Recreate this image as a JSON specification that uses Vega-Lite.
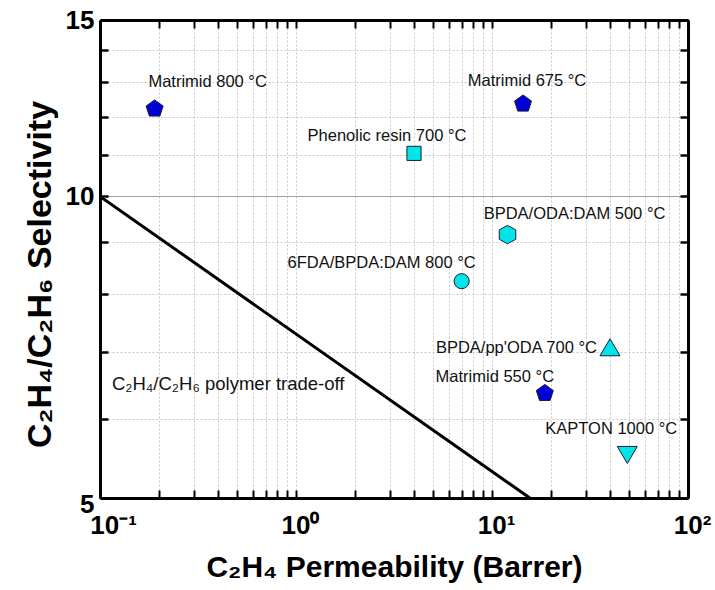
{
  "$schema": "https://vega.github.io/schema/vega-lite/v6.json",
  "width": 588,
  "height": 478,
  "autosize": {"type": "none"},
  "padding": {"left": 100, "top": 20, "right": 27, "bottom": 92},
  "background": "white",
  "config": {"view": {"stroke": null}, "font": "Liberation Sans", "text": {"font": "Liberation Sans", "color": "#111111"}},
  "datasets": {
    "membranes": [
      {"precursor": "Matrimid", "temperature": 800, "permeability": 0.19, "selectivity": 12.23, "label": "Matrimid 800 °C"},
      {"precursor": "Matrimid", "temperature": 675, "permeability": 14.4, "selectivity": 12.37, "label": "Matrimid 675 °C"},
      {"precursor": "Phenolic resin", "temperature": 700, "permeability": 4.0, "selectivity": 11.04, "label": "Phenolic resin 700 °C"},
      {"precursor": "BPDA/ODA:DAM", "temperature": 500, "permeability": 12.0, "selectivity": 9.16, "label": "BPDA/ODA:DAM 500 °C"},
      {"precursor": "6FDA/BPDA:DAM", "temperature": 800, "permeability": 7.0, "selectivity": 8.23, "label": "6FDA/BPDA:DAM 800 °C"},
      {"precursor": "BPDA/pp'ODA", "temperature": 700, "permeability": 40.0, "selectivity": 7.07, "label": "BPDA/pp'ODA 700 °C"},
      {"precursor": "Matrimid", "temperature": 550, "permeability": 18.6, "selectivity": 6.36, "label": "Matrimid 550 °C"},
      {"precursor": "KAPTON", "temperature": 1000, "permeability": 49.0, "selectivity": 5.52, "label": "KAPTON 1000 °C"}
    ],
    "tradeoff": [
      {"permeability": 0.1, "selectivity": 10},
      {"permeability": 15.6, "selectivity": 5}
    ],
    "notes": [
      {"text": "C₂H₄/C₂H₆ polymer trade-off", "permeability": 0.115, "selectivity": 6.41}
    ]
  },
  "resolve": {"axis": {"x": "independent", "y": "independent"}},
  "layer": [
    {
      "data": {"name": "tradeoff"},
      "mark": {"type": "line", "color": "black", "strokeWidth": 3, "clip": true},
      "encoding": {
        "x": {
          "field": "permeability", "type": "quantitative",
          "scale": {"type": "log", "domain": [0.1, 100], "nice": false},
          "axis": {
            "orient": "bottom",
            "values": [0.1,0.2,0.3,0.4,0.5,0.6,0.7,0.8,0.9,1,2,3,4,5,6,7,8,9,10,20,30,40,50,60,70,80,90,100],
            "labelExpr": "datum.value == 0.1 ? '10⁻¹' : datum.value == 1 ? '10⁰' : datum.value == 10 ? '10¹' : datum.value == 100 ? '10²' : ''",
            "labelFont": "Liberation Sans", "labelFontWeight": "bold", "labelFontSize": 26, "labelColor": "black",
            "labelOverlap": false, "labelFlush": false, "labelPadding": 22,
            "labelOffset": {"condition": {"test": "datum.value == 0.1", "value": 13}, "value": 4},
            "tickSize": -8, "tickWidth": 2, "tickColor": "black",
            "domainColor": "black", "domainWidth": 3,
            "grid": true, "gridColor": "#c8c8c8", "gridDash": [2, 2], "gridWidth": 1,
            "title": "C₂H₄ Permeability (Barrer)",
            "titleFont": "Liberation Sans", "titleFontSize": 30, "titleFontWeight": "bold", "titleColor": "black", "titlePadding": 14
          }
        },
        "y": {
          "field": "selectivity", "type": "quantitative",
          "scale": {"type": "log", "domain": [5, 15], "nice": false},
          "axis": {
            "orient": "left",
            "values": [5,6,7,8,9,10,11,12,13,14,15],
            "labelExpr": "datum.value == 5 || datum.value == 10 || datum.value == 15 ? '' + datum.value : ''",
            "labelFont": "Liberation Sans", "labelFontWeight": "bold", "labelFontSize": 26, "labelColor": "black",
            "labelOverlap": false, "labelFlush": false, "labelPadding": 14,
            "labelOffset": {"condition": {"test": "datum.value == 5", "value": 6}, "value": 0},
            "tickSize": -8, "tickWidth": 2.5, "tickColor": "black",
            "domainColor": "black", "domainWidth": 3,
            "grid": true,
            "gridColor": {"condition": {"test": "datum.value == 10", "value": "#a0a0a0"}, "value": "#c8c8c8"},
            "gridDash": {"condition": {"test": "datum.value == 10", "value": []}, "value": [2, 2]},
            "gridWidth": 1,
            "title": "C₂H₄/C₂H₆ Selectivity",
            "titleFont": "Liberation Sans", "titleFontSize": 34, "titleFontWeight": "bold", "titleColor": "black", "titlePadding": 8,
            "titleY": 254
          }
        }
      }
    },
    {
      "data": {"name": "tradeoff"},
      "mark": {"type": "line", "strokeOpacity": 0},
      "encoding": {
        "x": {
          "field": "permeability", "type": "quantitative",
          "axis": {
            "orient": "top",
            "values": [0.1,0.2,0.3,0.4,0.5,0.6,0.7,0.8,0.9,1,2,3,4,5,6,7,8,9,10,20,30,40,50,60,70,80,90,100],
            "labels": false, "tickSize": -8, "tickWidth": 2, "tickColor": "black",
            "domainColor": "black", "domainWidth": 3, "grid": false, "title": null
          }
        },
        "y": {
          "field": "selectivity", "type": "quantitative",
          "axis": {
            "orient": "right",
            "values": [5,6,7,8,9,10,11,12,13,14,15],
            "labels": false, "tickSize": -8, "tickWidth": 2.5, "tickColor": "black",
            "domainColor": "black", "domainWidth": 3, "grid": false, "title": null
          }
        }
      }
    },
    {
      "data": {"name": "membranes"},
      "mark": {"type": "point", "filled": true, "stroke": "#1c1c40", "strokeWidth": 1, "opacity": 1},
      "encoding": {
        "x": {"field": "permeability", "type": "quantitative", "axis": null},
        "y": {"field": "selectivity", "type": "quantitative", "axis": null},
        "shape": {
          "field": "precursor", "type": "nominal", "legend": null,
          "scale": {
            "domain": ["Matrimid", "Phenolic resin", "BPDA/ODA:DAM", "6FDA/BPDA:DAM", "BPDA/pp'ODA", "KAPTON"],
            "range": ["M0,-1L0.951,-0.309L0.588,0.809L-0.588,0.809L-0.951,-0.309Z", "square", "M0,-0.95L0.85,-0.475L0.85,0.475L0,0.95L-0.85,0.475L-0.85,-0.475Z", "circle", "M0,-0.85L1,0.85L-1,0.85Z", "M-1,-0.85L1,-0.85L0,0.85Z"]
          }
        },
        "color": {
          "field": "precursor", "type": "nominal", "legend": null,
          "scale": {
            "domain": ["Matrimid", "Phenolic resin", "BPDA/ODA:DAM", "6FDA/BPDA:DAM", "BPDA/pp'ODA", "KAPTON"],
            "range": ["#0000d4", "#00e5e8", "#00e5e8", "#00e5e8", "#00e5e8", "#00e5e8"]
          }
        },
        "size": {
          "field": "precursor", "type": "nominal", "legend": null,
          "scale": {
            "type": "ordinal",
            "domain": ["Matrimid", "Phenolic resin", "BPDA/ODA:DAM", "6FDA/BPDA:DAM", "BPDA/pp'ODA", "KAPTON"],
            "range": [320, 200, 380, 227, 400, 400]
          }
        }
      }
    },
    {
      "data": {"name": "membranes"},
      "transform": [{"filter": "datum.label == 'Matrimid 800 °C'"}],
      "mark": {"type": "text", "fontSize": 16.5, "align": "center", "baseline": "alphabetic", "dx": 53, "dy": -22},
      "encoding": {"x": {"field": "permeability", "type": "quantitative", "axis": null}, "y": {"field": "selectivity", "type": "quantitative", "axis": null}, "text": {"field": "label"}}
    },
    {
      "data": {"name": "membranes"},
      "transform": [{"filter": "datum.label == 'Matrimid 675 °C'"}],
      "mark": {"type": "text", "fontSize": 16.5, "align": "center", "baseline": "alphabetic", "dx": 4, "dy": -18},
      "encoding": {"x": {"field": "permeability", "type": "quantitative", "axis": null}, "y": {"field": "selectivity", "type": "quantitative", "axis": null}, "text": {"field": "label"}}
    },
    {
      "data": {"name": "membranes"},
      "transform": [{"filter": "datum.label == 'Phenolic resin 700 °C'"}],
      "mark": {"type": "text", "fontSize": 16.5, "align": "center", "baseline": "alphabetic", "dx": -27, "dy": -12},
      "encoding": {"x": {"field": "permeability", "type": "quantitative", "axis": null}, "y": {"field": "selectivity", "type": "quantitative", "axis": null}, "text": {"field": "label"}}
    },
    {
      "data": {"name": "membranes"},
      "transform": [{"filter": "datum.label == 'BPDA/ODA:DAM 500 °C'"}],
      "mark": {"type": "text", "fontSize": 16.5, "align": "center", "baseline": "alphabetic", "dx": 67, "dy": -16},
      "encoding": {"x": {"field": "permeability", "type": "quantitative", "axis": null}, "y": {"field": "selectivity", "type": "quantitative", "axis": null}, "text": {"field": "label"}}
    },
    {
      "data": {"name": "membranes"},
      "transform": [{"filter": "datum.label == '6FDA/BPDA:DAM 800 °C'"}],
      "mark": {"type": "text", "fontSize": 16.5, "align": "center", "baseline": "alphabetic", "dx": -80, "dy": -13},
      "encoding": {"x": {"field": "permeability", "type": "quantitative", "axis": null}, "y": {"field": "selectivity", "type": "quantitative", "axis": null}, "text": {"field": "label"}}
    },
    {
      "data": {"name": "membranes"},
      "transform": [{"filter": "datum.label == \"BPDA/pp'ODA 700 °C\""}],
      "mark": {"type": "text", "fontSize": 16.5, "align": "right", "baseline": "alphabetic", "dx": -13, "dy": 6},
      "encoding": {"x": {"field": "permeability", "type": "quantitative", "axis": null}, "y": {"field": "selectivity", "type": "quantitative", "axis": null}, "text": {"field": "label"}}
    },
    {
      "data": {"name": "membranes"},
      "transform": [{"filter": "datum.label == 'Matrimid 550 °C'"}],
      "mark": {"type": "text", "fontSize": 16.5, "align": "center", "baseline": "alphabetic", "dx": -50, "dy": -11},
      "encoding": {"x": {"field": "permeability", "type": "quantitative", "axis": null}, "y": {"field": "selectivity", "type": "quantitative", "axis": null}, "text": {"field": "label"}}
    },
    {
      "data": {"name": "membranes"},
      "transform": [{"filter": "datum.label == 'KAPTON 1000 °C'"}],
      "mark": {"type": "text", "fontSize": 16.5, "align": "center", "baseline": "alphabetic", "dx": -16, "dy": -21},
      "encoding": {"x": {"field": "permeability", "type": "quantitative", "axis": null}, "y": {"field": "selectivity", "type": "quantitative", "axis": null}, "text": {"field": "label"}}
    },
    {
      "data": {"name": "notes"},
      "mark": {"type": "text", "fontSize": 18.5, "align": "left", "baseline": "alphabetic"},
      "encoding": {"x": {"field": "permeability", "type": "quantitative", "axis": null}, "y": {"field": "selectivity", "type": "quantitative", "axis": null}, "text": {"field": "text"}}
    }
  ]
}
